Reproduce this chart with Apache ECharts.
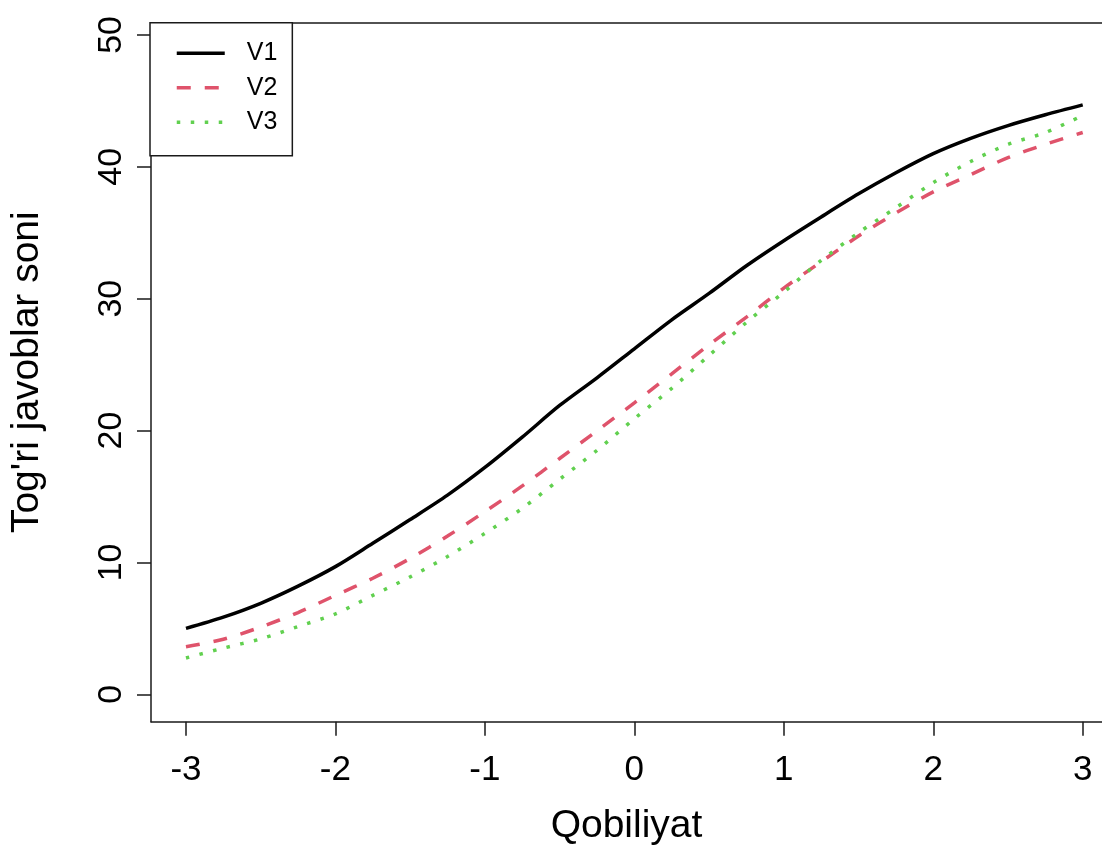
<!DOCTYPE html>
<html>
<head>
<meta charset="utf-8">
<script src="https://cdn.jsdelivr.net/npm/echarts@6/dist/echarts.min.js"></script>
<style>
html,body{margin:0;padding:0;background:#fff;}
#chart{width:1102px;height:856px;}
</style>
</head>
<body>
<div id="chart"></div>
<script>
// Data
const abilities = [-3, -2.75, -2.5, -2.25, -2, -1.75, -1.5, -1.25, -1, -0.75, -0.5, -0.25, 0, 0.25, 0.5, 0.75, 1, 1.25, 1.5, 1.75, 2, 2.25, 2.5, 2.75, 3];
const v1 = [5.0, 5.85, 6.9, 8.2, 9.68, 11.45, 13.25, 15.1, 17.2, 19.5, 21.9, 24.0, 26.2, 28.4, 30.4, 32.5, 34.4, 36.2, 37.95, 39.55, 41.0, 42.16, 43.13, 43.95, 44.7];
const v2 = [3.6, 4.17, 5.1, 6.2, 7.5, 8.8, 10.3, 12.0, 13.85, 15.8, 17.88, 19.98, 22.1, 24.3, 26.5, 28.6, 30.8, 32.8, 34.75, 36.5, 38.1, 39.4, 40.7, 41.7, 42.6];
const v3 = [2.75, 3.5, 4.2, 5.14, 6.1, 7.5, 8.9, 10.45, 12.2, 14.1, 16.3, 18.5, 20.9, 23.2, 25.7, 28.2, 30.5, 32.9, 35.0, 36.9, 38.8, 40.4, 41.7, 42.6, 43.9];
const seriesNames = ['V1', 'V2', 'V3'];
const xTicks = [-3, -2, -1, 0, 1, 2, 3];
const yTicks = [0, 10, 20, 30, 40, 50];
const xTitle = 'Qobiliyat';
const yTitle = "Tog'ri javoblar soni";

const pairs = (ys) => abilities.map((x, i) => [x, ys[i]]);
const FONT = '"Liberation Sans", Arial, sans-serif';
const INK = '#1a1a1a';
const xMin = -3.234, xMax = 3.129;

const chart = echarts.init(document.getElementById('chart'), null, {renderer: 'canvas'});
chart.setOption({
  animation: false,
  backgroundColor: '#ffffff',
  grid: {left: 150, top: 22.7, right: 0, height: 699},
  legend: {
    orient: 'vertical',
    left: 150, top: 22.7,
    data: seriesNames,
    itemWidth: 48, itemHeight: 24, itemGap: 9.5,
    padding: [18, 15, 21, 25],
    backgroundColor: '#ffffff',
    borderColor: INK, borderWidth: 1.5, borderRadius: 0,
    itemStyle: {opacity: 0},
    lineStyle: {width: 3.5},
    textStyle: {fontFamily: FONT, fontSize: 25, color: '#000', padding: [0, 0, 0, 17]},
    z: 10
  },
  xAxis: [{
    type: 'value', min: xMin, max: xMax, position: 'bottom',
    name: xTitle, nameLocation: 'middle', nameGap: 85,
    nameTextStyle: {fontFamily: FONT, fontSize: 39, color: '#000'},
    axisLine: {show: true, onZero: false, lineStyle: {color: INK, width: 1.5}},
    splitLine: {show: false},
    axisTick: {show: true, customValues: xTicks, length: 14, lineStyle: {color: INK, width: 1.5}},
    axisLabel: {customValues: xTicks, fontFamily: FONT, fontSize: 35, color: '#000', margin: 31}
  }, {
    type: 'value', min: xMin, max: xMax, position: 'top',
    axisLine: {show: true, onZero: false, lineStyle: {color: INK, width: 1.5}},
    splitLine: {show: false}, axisTick: {show: false}, axisLabel: {show: false}
  }],
  yAxis: {
    type: 'value', min: -2.08, max: 50.93,
    name: yTitle, nameLocation: 'middle', nameGap: 104, nameRotate: 90,
    nameTextStyle: {fontFamily: FONT, fontSize: 39, color: '#000'},
    axisLine: {show: true, onZero: false, lineStyle: {color: INK, width: 1.5}},
    splitLine: {show: false},
    axisTick: {show: true, customValues: yTicks, length: 14, lineStyle: {color: INK, width: 1.5}},
    axisLabel: {customValues: yTicks, rotate: 90, fontFamily: FONT, fontSize: 34, color: '#000', margin: 22}
  },
  series: [
    {name: seriesNames[0], type: 'line', data: pairs(v1), showSymbol: false, symbol: 'none', smooth: 0.3,
     lineStyle: {color: '#000000', width: 3.5, type: 'solid'}, itemStyle: {color: '#000000'}},
    {name: seriesNames[1], type: 'line', data: pairs(v2), showSymbol: false, symbol: 'none', smooth: 0.3,
     lineStyle: {color: '#DF536B', width: 3.5, type: [14, 14], cap: 'butt'}, itemStyle: {color: '#DF536B'}},
    {name: seriesNames[2], type: 'line', data: pairs(v3), showSymbol: false, symbol: 'none', smooth: 0.3,
     lineStyle: {color: '#61D04F', width: 3.5, type: [3.5, 10.5], cap: 'butt'}, itemStyle: {color: '#61D04F'}}
  ]
});
</script>
</body>
</html>
